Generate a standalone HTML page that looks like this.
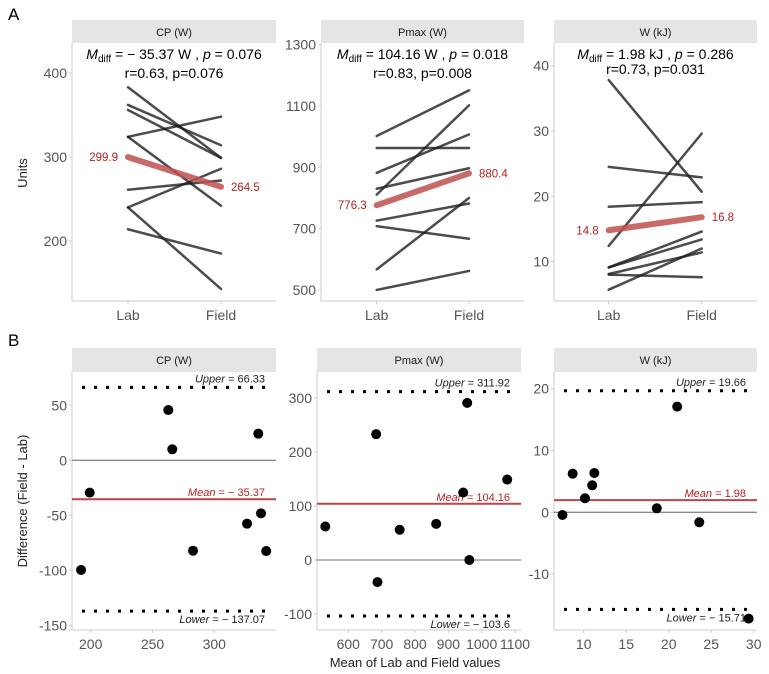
<!DOCTYPE html>
<html><head><meta charset="utf-8">
<style>
html,body{margin:0;padding:0;background:#fff;}
svg{display:block;font-family:"Liberation Sans",Arial,sans-serif;}
</style></head>
<body>
<svg id="chart" width="769" height="674" viewBox="0 0 769 674"></svg>
<script>
// ---- Panel A data ----
const facetNames = ["CP (W)", "Pmax (W)", "W (kJ)"];
const cpLab = [383, 362, 356, 324, 324, 261, 240, 240, 214];
const cpField = [299, 314, 299, 348, 242, 272, 286, 143, 185];
const pmaxLab = [1002, 963, 882, 830, 811, 726, 708, 567, 500];
const pmaxField = [1151, 963, 1007, 897, 1102, 782, 667, 800, 562];
const wLab = [37.8, 24.5, 18.4, 12.4, 9.1, 9.1, 8.1, 8.0, 5.7];
const wField = [20.7, 22.9, 19.1, 29.6, 14.6, 13.4, 11.4, 7.6, 12.0];
const meanLab = [299.9, 776.3, 14.8];
const meanField = [264.5, 880.4, 16.8];
const statLine1 = [["= \u2212 35.37 W , ", "= 0.076"], ["= 104.16 W , ", "= 0.018"], ["= 1.98 kJ , ", "= 0.286"]];
const statLine2 = ["r=0.63, p=0.076", "r=0.83, p=0.008", "r=0.73, p=0.031"];
const ticksA = [[200, 300, 400], [500, 700, 900, 1100, 1300], [10, 20, 30, 40]];
// ---- Panel B data ----
const cpMeanX = [192.2, 199.2, 262.8, 266, 282.8, 326.5, 335.6, 337.8, 342];
const cpDiff = [-99.7, -29.4, 45.7, 10, -82.2, -57.6, 24.2, -48.2, -82.5];
const pmaxMeanX = [1076.5, 963, 944.5, 863.5, 956.5, 754, 687.5, 683.5, 531];
const pmaxDiff = [149, 0, 125, 67, 291, 56, -41, 233, 62];
const wMeanX = [7.5, 8.7, 10.15, 11.0, 11.25, 18.6, 21.0, 23.6, 29.4];
const wDiff = [-0.44, 6.25, 2.27, 4.37, 6.36, 0.65, 17.1, -1.62, -17.2];
const upperLoA = [66.33, 311.92, 19.66];
const meanDiff = [-35.37, 104.16, 1.98];
const lowerLoA = [-137.07, -103.6, -15.71];
const upperLabels = ["66.33", "311.92", "19.66"];
const meanLabels = ["\u2212 35.37", "104.16", "1.98"];
const lowerLabels = ["\u2212 137.07", "\u2212 103.6", "\u2212 15.71"];
const ticksBy = [[-150, -100, -50, 0, 50], [-100, 0, 100, 200, 300], [-10, 0, 10, 20]];
const ticksBx = [[200, 250, 300], [600, 700, 800, 900, 1000, 1100], [10, 15, 20, 25, 30]];

const NS = "http://www.w3.org/2000/svg";
const svg = document.getElementById("chart");
function mk(tag, attrs, parent, text) {
  const e = document.createElementNS(NS, tag);
  for (const k in attrs) e.setAttribute(k, attrs[k]);
  if (text !== undefined) e.textContent = text;
  (parent || svg).appendChild(e);
  return e;
}
// facet geometry
const fx = [[72, 276], [321, 524], [554, 757]];
const labX = [128, 376.7, 608.7], fieldX = [221, 469, 701.7];
// y scales panel A: [value, pixel] refs
const yA = [[300, 157, 0.84], [900, 167.3, 0.3066], [20, 196.3, 6.53]];
function ya(i, v) { return yA[i][1] - (v - yA[i][0]) * yA[i][2]; }
const labsA = [cpLab, pmaxLab, wLab], fldsA = [cpField, pmaxField, wField];

mk("text", {x: 8, y: 20, "font-size": 17, fill: "#000",  }, svg, "A");
mk("text", {x: 8, y: 346, "font-size": 17, fill: "#000",  }, svg, "B");
const ua = mk("text", {x: 0, y: 0, "font-size": 13, fill: "#222", "text-anchor": "middle", transform: "translate(27,173) rotate(-90)"}, svg, "Units");



for (let i = 0; i < 3; i++) {
  const [x0, x1] = fx[i];
  const g = mk("g", {});
  
  
  const st = mk("rect", {x: x0, y: 20, width: x1 - x0, height: 23, fill: "#e5e5e5"}, g);
  
  
  mk("text", {x: (x0 + x1) / 2, y: 36, "font-size": 11, "text-anchor": "middle", fill: "#1a1a1a"}, g, facetNames[i]);
  mk("line", {x1: x0, y1: 43, x2: x0, y2: 301, stroke: "#ccc", "stroke-width": 1}, g);
  mk("line", {x1: x0, y1: 301, x2: x1, y2: 301, stroke: "#ccc", "stroke-width": 1}, g);
  ticksA[i].forEach(t => {
    const y = ya(i, t);
    mk("line", {x1: x0 - 3, y1: y, x2: x0, y2: y, stroke: "#ccc"}, g);
    const tl = mk("text", {x: x0 - 5, y: y + 5, "font-size": 14, "text-anchor": "end", fill: "#555"}, g, String(t));
    
    
  });
  [["Lab", labX[i]], ["Field", fieldX[i]]].forEach(([t, x]) => {
    mk("line", {x1: x, y1: 301, x2: x, y2: 304, stroke: "#ccc"}, g);
    mk("text", {x: x, y: 320, "font-size": 14, "text-anchor": "middle", fill: "#555"}, g, t);
  });
  // stats
  const cx = (x0 + x1) / 2;
  const s1 = mk("text", {x: cx, y: 59, "font-size": 14, "text-anchor": "middle", fill: "#000"}, g);
  
  
  mk("tspan", {"font-style": "italic"}, s1, "M");
  mk("tspan", {"font-size": 10, dy: 3}, s1, "diff");
  mk("tspan", {dy: -3}, s1, " " + statLine1[i][0]);
  mk("tspan", {"font-style": "italic"}, s1, "p");
  mk("tspan", {}, s1, " " + statLine1[i][1]);
  mk("text", {x: cx, y: i === 2 ? 74 : 78, "font-size": 14, "text-anchor": "middle", fill: "#000"}, g, statLine2[i]);
  // lines
  labsA[i].forEach((v, k) => {
    const l = mk("line", {x1: labX[i], y1: ya(i, v), x2: fieldX[i], y2: ya(i, fldsA[i][k]), stroke: "#1a1a1a", "stroke-opacity": 0.78, "stroke-width": 2.5, "stroke-linecap": "round"}, g);
    
    
  });
  const ml = mk("line", {x1: labX[i], y1: ya(i, meanLab[i]), x2: fieldX[i], y2: ya(i, meanField[i]), stroke: "#c0504f", "stroke-opacity": 0.85, "stroke-width": 6, "stroke-linecap": "round"}, g);
  
  
  mk("text", {x: labX[i] - 10, y: ya(i, meanLab[i]) + 4, "font-size": 11.5, "text-anchor": "end", fill: "#b22222"}, g, meanLab[i].toFixed(1));
  mk("text", {x: fieldX[i] + 10, y: ya(i, meanField[i]) + 4, "font-size": 11.5, "text-anchor": "start", fill: "#b22222"}, g, meanField[i].toFixed(1));
}

// ---- Panel B ----
const yB = [[0, 460.3, 1.1], [0, 560, 0.54], [0, 512.3, 6.18]];
const xB = [[200, 90.7, 1.236], [600, 348.3, 0.3335], [10, 583.7, 8.5]];
function yb(i, v) { return yB[i][1] - (v - yB[i][0]) * yB[i][2]; }
function xb(i, v) { return xB[i][1] + (v - xB[i][0]) * xB[i][2]; }
const bxs = [cpMeanX, pmaxMeanX, wMeanX], bys = [cpDiff, pmaxDiff, wDiff];
const fxB = [[72, 276], [317, 521], [554, 757]];
const by0 = 372, by1 = 630;
const ub = mk("text", {x: 0, y: 0, "font-size": 13, fill: "#222", "text-anchor": "middle", transform: "translate(27,501) rotate(-90)"}, svg, "Difference (Field - Lab)");


const xt = mk("text", {x: 415, y: 667, "font-size": 13, fill: "#222", "text-anchor": "middle"}, svg, "Mean of Lab and Field values");



for (let i = 0; i < 3; i++) {
  const [x0, x1] = fxB[i];
  const g = mk("g", {});
  
  
  const st = mk("rect", {x: x0, y: 348, width: x1 - x0, height: 24, fill: "#e5e5e5"}, g);
  
  
  mk("text", {x: (x0 + x1) / 2, y: 364, "font-size": 11, "text-anchor": "middle", fill: "#1a1a1a"}, g, facetNames[i]);
  mk("line", {x1: x0, y1: by0, x2: x0, y2: by1, stroke: "#ccc"}, g);
  mk("line", {x1: x0, y1: by1, x2: x1, y2: by1, stroke: "#ccc"}, g);
  ticksBy[i].forEach(t => {
    const y = yb(i, t);
    mk("line", {x1: x0 - 3, y1: y, x2: x0, y2: y, stroke: "#ccc"}, g);
    mk("text", {x: x0 - 5, y: y + 5, "font-size": 14, "text-anchor": "end", fill: "#555"}, g, String(t));
  });
  ticksBx[i].forEach(t => {
    const x = xb(i, t);
    mk("line", {x1: x, y1: by1, x2: x, y2: by1 + 3, stroke: "#ccc"}, g);
    mk("text", {x: x, y: 649, "font-size": 14, "text-anchor": "middle", fill: "#555"}, g, String(t));
  });
  // zero line
  mk("line", {x1: x0, y1: yb(i, 0), x2: x1, y2: yb(i, 0), stroke: "#8a8a8a", "stroke-width": 1.3}, g);
  // LoA
  const uy = yb(i, upperLoA[i]), ly = yb(i, lowerLoA[i]), my = yb(i, meanDiff[i]);
  const ul = mk("line", {x1: x0 + 10, y1: uy, x2: x1 - 6, y2: uy, stroke: "#000", "stroke-width": 3, "stroke-dasharray": "3,9"}, g);
  
  
  const ll = mk("line", {x1: x0 + 10, y1: ly, x2: x1 - 6, y2: ly, stroke: "#000", "stroke-width": 3, "stroke-dasharray": "3,9"}, g);
  
  
  const mline = mk("line", {x1: x0, y1: my, x2: x1, y2: my, stroke: "#b9464a", "stroke-width": 2}, g);
  
  
  const tx = x1 - 11;
  const t1 = mk("text", {x: tx, y: uy - 5, "font-size": 11, "text-anchor": "end", fill: "#222"}, g);
  mk("tspan", {"font-style": "italic"}, t1, "Upper");
  mk("tspan", {}, t1, " = " + upperLabels[i]);
  const t2 = mk("text", {x: tx, y: my - 3, "font-size": 11, "text-anchor": "end", fill: "#b22222"}, g);
  mk("tspan", {"font-style": "italic"}, t2, "Mean");
  mk("tspan", {}, t2, " = " + meanLabels[i]);
  const t3 = mk("text", {x: tx, y: ly + 12, "font-size": 11, "text-anchor": "end", fill: "#222"}, g);
  mk("tspan", {"font-style": "italic"}, t3, "Lower");
  mk("tspan", {}, t3, " = " + lowerLabels[i]);
  bxs[i].forEach((v, k) => {
    const c = mk("circle", {cx: xb(i, v), cy: yb(i, bys[i][k]), r: 5, fill: "#000"}, g);
    
    
  });
}
</script>
</body></html>
